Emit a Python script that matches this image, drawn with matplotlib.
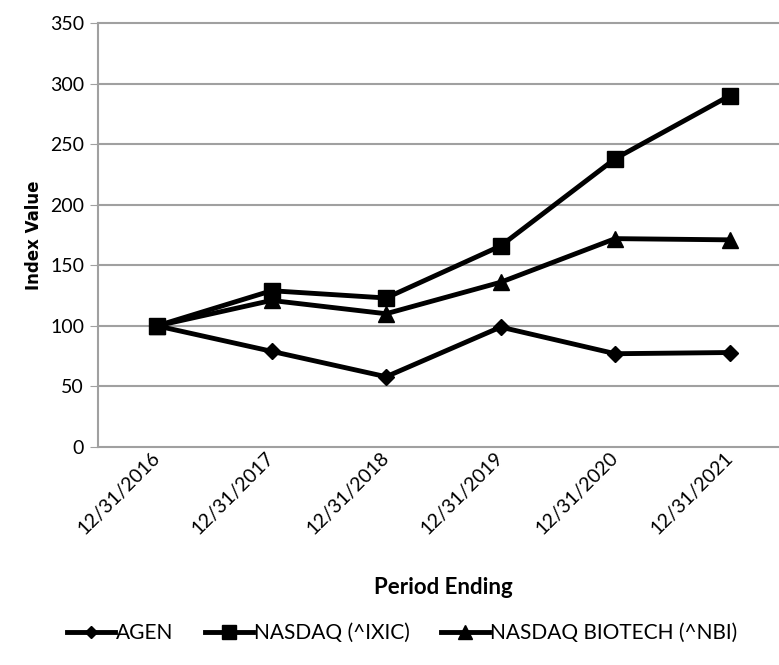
import matplotlib
matplotlib.use("Agg")
import matplotlib.pyplot as plt

periods = ["12/31/2016", "12/31/2017", "12/31/2018", "12/31/2019", "12/31/2020", "12/31/2021"]
agen = [100, 79, 58, 99, 77, 78]
nasdaq = [100, 129, 123, 166, 238, 290]
nbi = [100, 121, 110, 136, 172, 171]
series_names = ["AGEN", "NASDAQ (^IXIC)", "NASDAQ BIOTECH (^NBI)"]
yticks = [0, 50, 100, 150, 200, 250, 300, 350]

plt.rcParams['font.family'] = ['Lato', 'DejaVu Sans']

fig = plt.figure(figsize=(7.79, 6.65), dpi=100)
W, H = 779, 665
ax = fig.add_axes([98 / W, 1 - 447 / H, (779 - 98) / W, (447 - 23) / H])

x = list(range(len(periods)))
ax.plot(x, agen, color='black', lw=3.5, marker='D', ms=8, label=series_names[0], zorder=3)
ax.plot(x, nasdaq, color='black', lw=3.5, marker='s', ms=12, label=series_names[1], zorder=3)
ax.plot(x, nbi, color='black', lw=3.5, marker='^', ms=12, label=series_names[2], zorder=3)

ax.set_ylim(0, 350)
ax.set_yticks(yticks)
ax.set_xlim(-0.515, 5.43)
ax.set_xticks(x)
ax.set_xticklabels(periods, rotation=45, ha='right', va='center', rotation_mode='anchor', fontsize=14)
ax.tick_params(axis='x', length=0, pad=6)
ax.tick_params(axis='y', length=6, color='#a0a0a0', labelsize=14, pad=4)
ax.yaxis.grid(True, color='#a0a0a0', lw=1.5)
for gl in ax.get_ygridlines():
    gl.set_clip_on(False)
ax.set_axisbelow(True)
for s in ['top', 'right', 'bottom']:
    ax.spines[s].set_visible(False)
ax.spines['left'].set_color('#a0a0a0')
ax.spines['left'].set_linewidth(1.5)

ax.set_ylabel("Index Value", fontsize=12, fontweight='bold', family='DejaVu Sans', labelpad=5)
fig.text(443 / W, 1 - 587 / H, "Period Ending", ha='center', va='center', fontsize=16, fontweight='bold')

fig.legend(loc='center', bbox_to_anchor=(402 / W, 1 - 633 / H), ncol=3, frameon=False,
           fontsize=15, handlelength=2.3, columnspacing=1.5, handletextpad=0.05, markerscale=0.8)

fig.savefig("out.png", dpi=100)
